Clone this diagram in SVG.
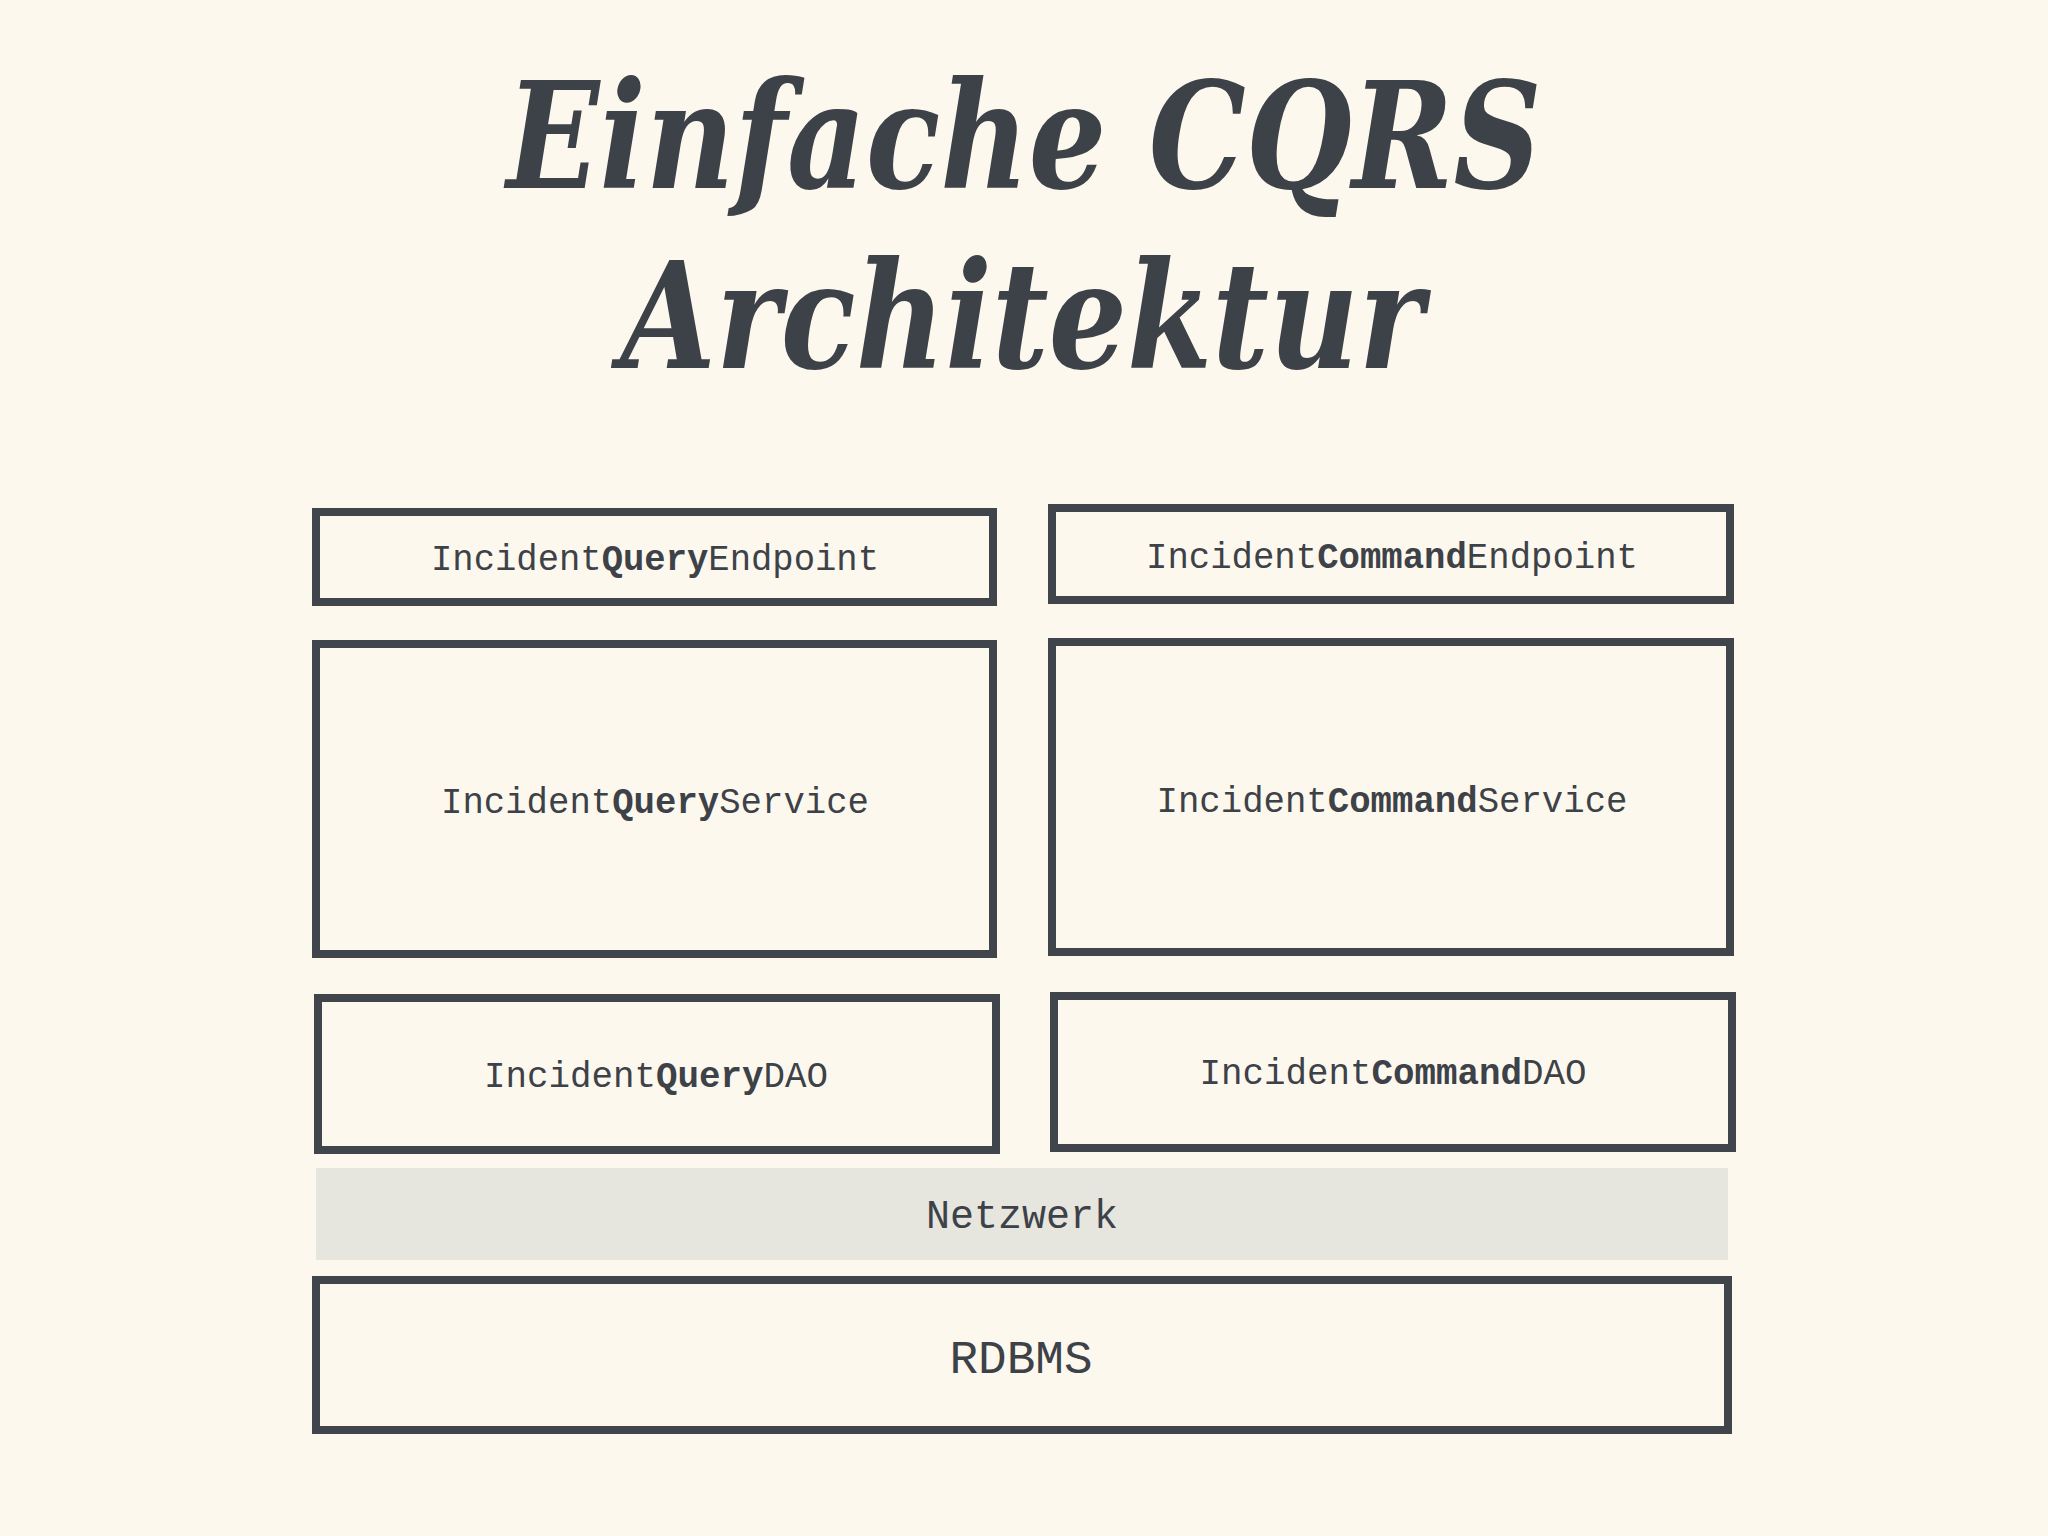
<svg xmlns="http://www.w3.org/2000/svg" width="2048" height="1536" viewBox="0 0 2048 1536">
<style>
.bg{fill:#fdf8ee}
.box{fill:#fdf8ee;stroke:#40444b;stroke-width:8}
.net{fill:#e6e5de}
.lbl{font-family:"Liberation Mono","DejaVu Sans Mono",monospace;font-size:36px;fill:#3d4148;text-anchor:middle}
.b{font-weight:bold}
.title{font-family:"DejaVu Serif","Liberation Serif",serif;font-weight:bold;font-style:italic;font-size:148px;fill:#3d4148;text-anchor:middle}
</style>
<rect class="bg" x="0" y="0" width="2048" height="1536"/>
<g id="title">
<text class="title" x="1024" y="188" textLength="1035" lengthAdjust="spacingAndGlyphs">Einfache CQRS</text>
<text class="title" x="1022" y="368" textLength="803" lengthAdjust="spacingAndGlyphs">Architektur</text>
</g>
<g id="connectors"></g>
<g id="queryEndpoint">
<rect class="box" x="316" y="512" width="677" height="90"/>
<text class="lbl" x="655" y="570" textLength="448" lengthAdjust="spacingAndGlyphs">Incident<tspan class="b">Query</tspan>Endpoint</text>
</g>
<g id="commandEndpoint">
<rect class="box" x="1052" y="508" width="678" height="92"/>
<text class="lbl" x="1392" y="568" textLength="492" lengthAdjust="spacingAndGlyphs">Incident<tspan class="b">Command</tspan>Endpoint</text>
</g>
<g id="queryService">
<rect class="box" x="316" y="644" width="677" height="310"/>
<text class="lbl" x="655" y="813" textLength="428" lengthAdjust="spacingAndGlyphs">Incident<tspan class="b">Query</tspan>Service</text>
</g>
<g id="commandService">
<rect class="box" x="1052" y="642" width="678" height="310"/>
<text class="lbl" x="1392" y="812" textLength="471" lengthAdjust="spacingAndGlyphs">Incident<tspan class="b">Command</tspan>Service</text>
</g>
<g id="queryDAO">
<rect class="box" x="318" y="998" width="678" height="152"/>
<text class="lbl" x="656" y="1087" textLength="344" lengthAdjust="spacingAndGlyphs">Incident<tspan class="b">Query</tspan>DAO</text>
</g>
<g id="commandDAO">
<rect class="box" x="1054" y="996" width="678" height="152"/>
<text class="lbl" x="1393" y="1084" textLength="387" lengthAdjust="spacingAndGlyphs">Incident<tspan class="b">Command</tspan>DAO</text>
</g>
<g id="netzwerk">
<rect class="net" x="316" y="1168" width="1412" height="92"/>
<text class="lbl" x="1022" y="1228" style="font-size:40px" textLength="192" lengthAdjust="spacingAndGlyphs">Netzwerk</text>
</g>
<g id="rdbms">
<rect class="box" x="316" y="1280" width="1412" height="150"/>
<text class="lbl" x="1021" y="1373" style="font-size:46px" textLength="143" lengthAdjust="spacingAndGlyphs">RDBMS</text>
</g>
</svg>
